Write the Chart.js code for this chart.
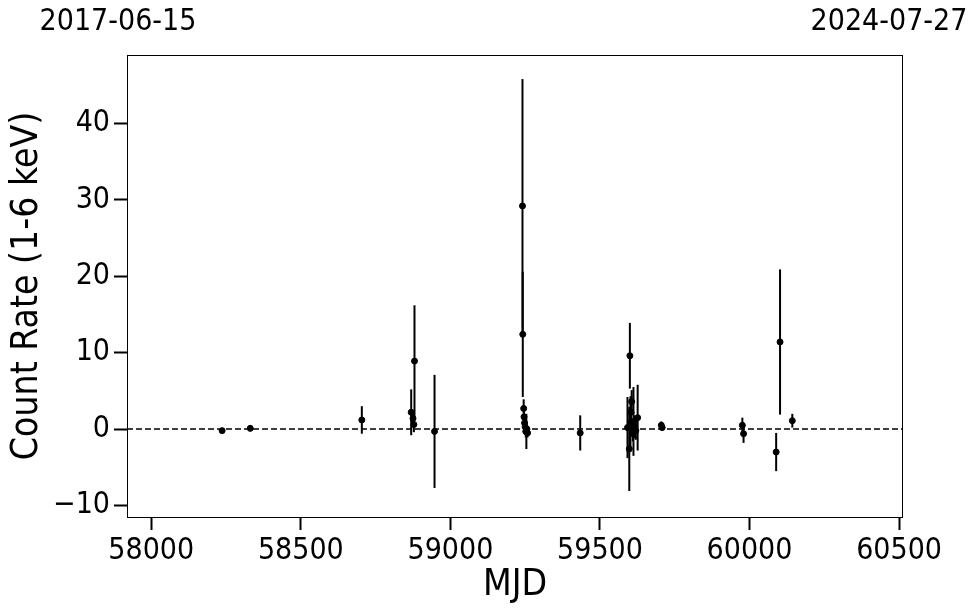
<!DOCTYPE html>
<html>
<head>
<meta charset="utf-8">
<script src="https://cdn.jsdelivr.net/npm/chart.js@4.4.1/dist/chart.umd.min.js"></script>
<style>
  html, body { margin: 0; padding: 0; background: #fff; }
  #wrap { width: 980px; height: 613px; }
</style>
</head>
<body>
<div id="wrap"><canvas id="c" width="980" height="613"></canvas></div>
<script>
// ---- data ----
const mjd  = [58237, 58331, 58704, 58869, 58875, 58878, 58880, 58947,
              59241, 59242, 59245, 59246, 59248, 59250, 59252, 59254, 59256, 59258,
              59434,
              59592, 59598, 59600, 59602, 59604, 59606, 59608, 59610, 59612, 59615, 59620, 59626,
              59705, 59708, 59976, 59980, 60089, 60102, 60143];
const rate = [-0.2, 0.1, 1.2, 2.2, 1.4, 0.6, 8.9, -0.3,
              29.2, 12.4, 2.7, 1.6, 0.8, 0.3, -0.3, -0.3, 0.0, -0.5,
              -0.5,
              0.2, -2.6, 9.6, 0.8, 2.2, 3.6, 0.2, -0.6, 1.0, 0.3, -0.2, 1.5,
              0.5, 0.2, 0.5, -0.6, -3.0, 11.4, 1.1];
const err  = [0.2, 0.4, 1.8, 3.0, 0.8, 1.0, 7.3, 7.4,
              16.6, 8.2, 1.2, 1.0, 1.2, 1.0, 0.8, 2.3, 0.5, 0.6,
              2.3,
              4.0, 5.5, 4.3, 3.5, 2.0, 1.5, 1.0, 1.0, 4.5, 1.5, 1.2, 4.3,
              0.5, 0.4, 1.0, 1.2, 2.5, 9.5, 0.9];
const xRange = [57919, 60513];
const yRange = [-11.5, 48.95];
const xTicks = [58000, 58500, 59000, 59500, 60000, 60500];
const yTicks = [-10, 0, 10, 20, 30, 40];
const dateLabels = ["2017-06-15", "2024-07-27"];
const xTitle = "MJD";
const yTitle = "Count Rate (1-6 keV)";

const FONT = "'DejaVu Sans Condensed', 'DejaVu Sans', sans-serif";

const points = mjd.map((m, i) => ({ x: m, y: rate[i] }));

const errorBarPlugin = {
  id: 'errorBars',
  beforeDatasetsDraw(chart) {
    const { ctx, scales: { x, y }, chartArea } = chart;
    ctx.save();
    ctx.beginPath();
    ctx.rect(chartArea.left, chartArea.top, chartArea.right - chartArea.left, chartArea.bottom - chartArea.top);
    ctx.clip();
    ctx.strokeStyle = '#000';
    ctx.lineWidth = 2;
    for (let i = 0; i < mjd.length; i++) {
      const px = x.getPixelForValue(mjd[i]);
      const y1 = y.getPixelForValue(rate[i] - err[i]);
      const y2 = y.getPixelForValue(rate[i] + err[i]);
      ctx.beginPath();
      ctx.moveTo(px, y1);
      ctx.lineTo(px, y2);
      ctx.stroke();
    }
    ctx.restore();
  },
  afterDraw(chart) {
    const { ctx, chartArea } = chart;
    ctx.save();
    ctx.strokeStyle = '#000';
    ctx.lineWidth = 1;
    ctx.strokeRect(chartArea.left + 0.5, chartArea.top + 0.5,
                   chartArea.right - chartArea.left - 1, chartArea.bottom - chartArea.top);
    ctx.fillStyle = '#000';
    ctx.font = "30px " + FONT;
    ctx.textAlign = 'center';
    ctx.textBaseline = 'middle';
    ctx.fillText(dateLabels[0], chartArea.left - 9, 22);
    ctx.fillText(dateLabels[1], chartArea.right - 14, 22);
    ctx.restore();
  }
};

new Chart(document.getElementById('c'), {
  type: 'scatter',
  data: {
    datasets: [
      {
        type: 'line',
        data: [{ x: xRange[0], y: 0 }, { x: xRange[1], y: 0 }],
        borderColor: '#000',
        borderWidth: 1.5,
        borderDash: [6, 3],
        pointRadius: 0,
        fill: false,
        order: 2
      },
      {
        data: points,
        backgroundColor: '#000',
        borderColor: '#000',
        pointRadius: 3,
        pointHoverRadius: 3,
        order: 1
      }
    ]
  },
  options: {
    responsive: false,
    animation: false,
    events: [],
    layout: { padding: { top: 55, right: 77, left: 0, bottom: 0 } },
    plugins: { legend: { display: false }, tooltip: { enabled: false } },
    scales: {
      x: {
        type: 'linear',
        min: xRange[0], max: xRange[1],
        grid: { drawOnChartArea: false, drawTicks: true, tickLength: 13, tickWidth: 2, tickColor: '#000' },
        border: { display: false },
        ticks: { color: '#000', padding: 3, autoSkip: false,
                 font: { family: FONT, size: 30 }, maxRotation: 0,
                 callback: v => String(v) },
        afterBuildTicks(s) { s.ticks = xTicks.map(v => ({ value: v })); },
        title: { display: true, text: xTitle, color: '#000', font: { family: FONT, size: 37 }, padding: { top: 0, bottom: 5 } },
        afterFit(s) { s.height = 96; }
      },
      y: {
        type: 'linear',
        min: yRange[0], max: yRange[1],
        grid: { drawOnChartArea: false, drawTicks: true, tickLength: 13, tickWidth: 2, tickColor: '#000' },
        border: { display: false },
        ticks: { color: '#000', padding: 4, autoSkip: false,
                 font: { family: FONT, size: 30 },
                 callback: v => (v < 0 ? '\u2212' + Math.abs(v) : String(v)) },
        afterBuildTicks(s) { s.ticks = yTicks.map(v => ({ value: v })); },
        title: { display: true, text: yTitle, color: '#000', font: { family: FONT, size: 37 }, padding: { top: 5, bottom: 0 } },
        afterFit(s) { s.width = 127; }
      }
    }
  },
  plugins: [errorBarPlugin]
});
</script>
</body>
</html>
